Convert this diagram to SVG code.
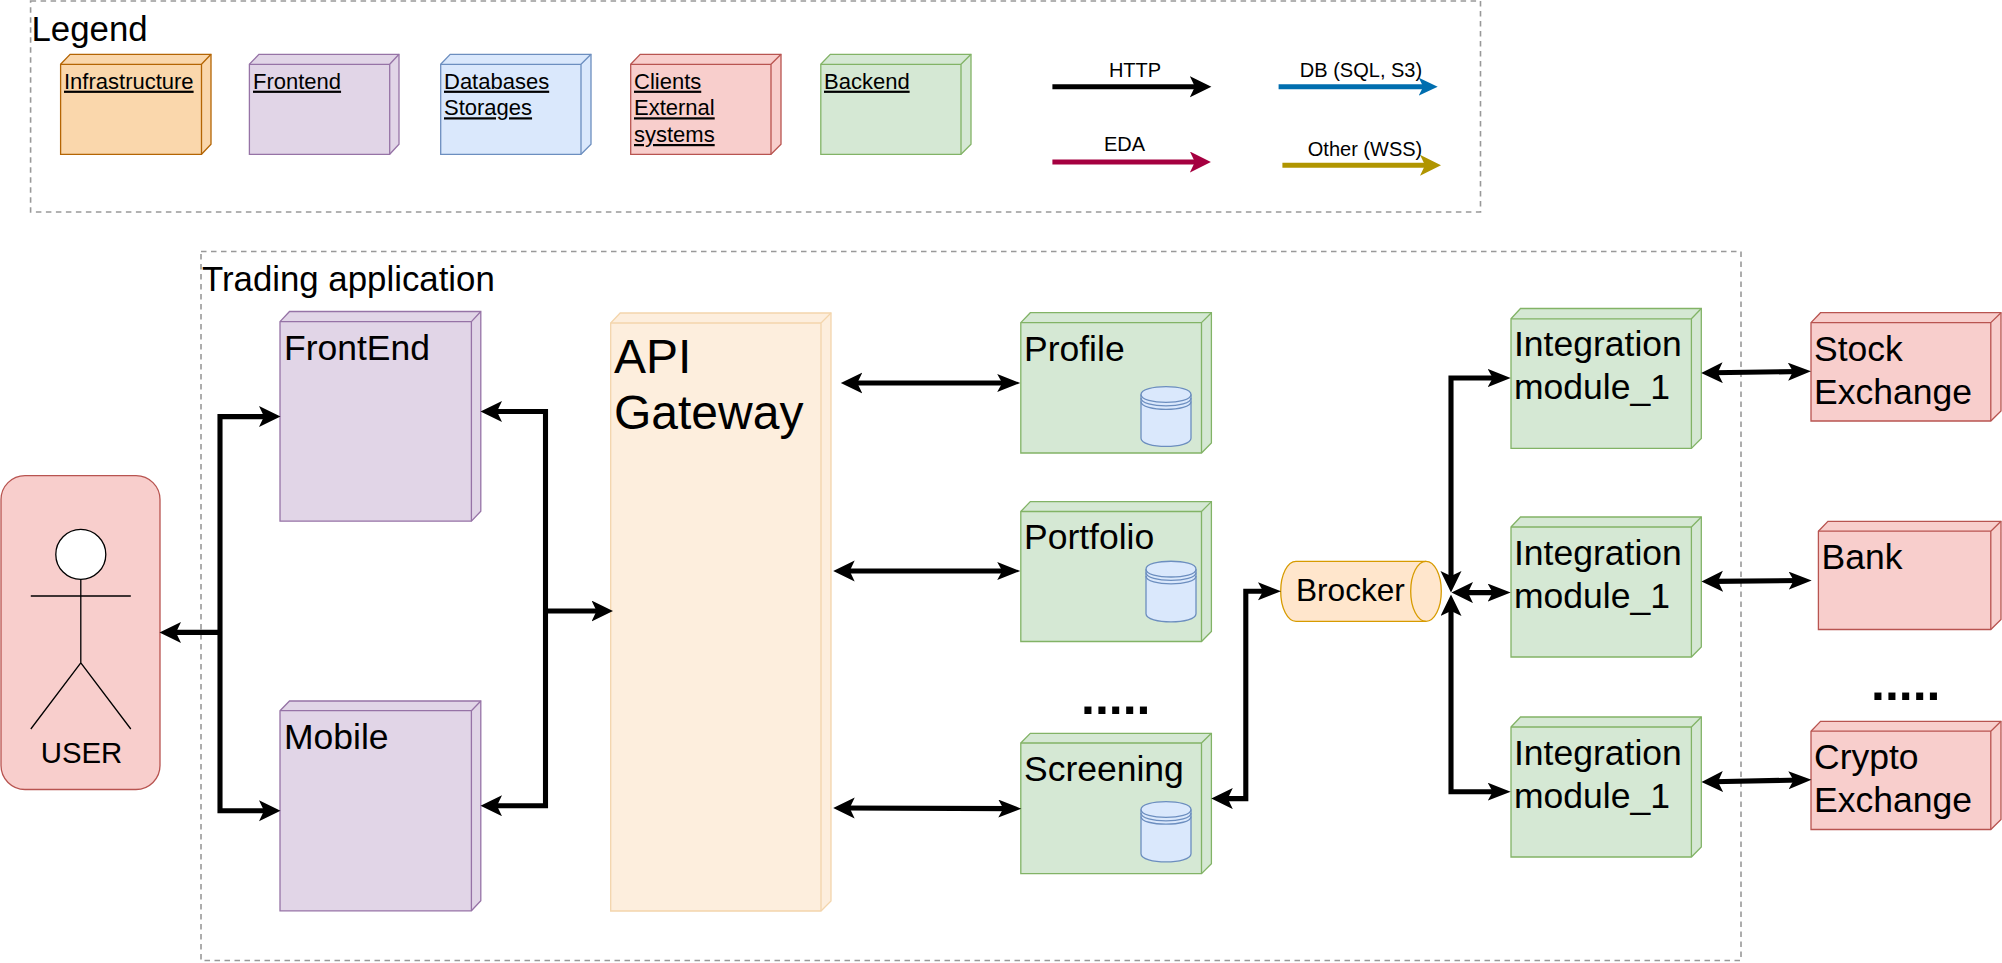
<svg xmlns="http://www.w3.org/2000/svg" width="2002" height="963" viewBox="0 0 2002 963">
<style>
text{font-family:"Liberation Sans",Arial,sans-serif;fill:#000}
.frame{fill:none;stroke:#999;stroke-width:1.6;stroke-dasharray:5.5 4.5}
.n{stroke-width:1.3;stroke-linejoin:miter}
.inf{fill:#fad7ac;stroke:#b46504}
.fe{fill:#e1d5e7;stroke:#9673a6}
.db{fill:#dae8fc;stroke:#6c8ebf}
.ext{fill:#f8cecc;stroke:#b85450}
.be{fill:#d5e8d4;stroke:#82b366}
.gw{fill:#fdeedd;stroke:#f3d5ac}
.brk{fill:#ffe6cc;stroke:#d79b00}
.lg{font-size:22px;text-decoration:underline}
.lb{font-size:35.5px}
.al{font-size:20px}
.dots{font-size:50px;font-weight:bold}
.c{fill:none;stroke:#000;stroke-width:5.1;marker-start:url(#s);marker-end:url(#e)}
.actor{fill:none;stroke:#000;stroke-width:1.3}
</style>
<defs>
<marker id="e" markerUnits="userSpaceOnUse" markerWidth="24" markerHeight="19" refX="12" refY="9" orient="auto-start-reverse"><path d="M0,0 L23,9 L0,18 L5,9Z" fill="#000"/></marker>
<marker id="s" markerUnits="userSpaceOnUse" markerWidth="23" markerHeight="22" refX="10" refY="10.5" orient="auto-start-reverse"><path d="M0,0 L21.5,10.5 L0,21 L5,10.5Z" fill="#000"/></marker>
<marker id="mb" markerUnits="userSpaceOnUse" markerWidth="20" markerHeight="18" refX="8" refY="9" orient="auto"><path d="M0,0 L19,9 L0,18 L4.5,9Z" fill="#006eaf"/></marker>
<marker id="mr" markerUnits="userSpaceOnUse" markerWidth="23" markerHeight="22" refX="10" refY="10.5" orient="auto"><path d="M0,0 L21,10.5 L0,21 L5,10.5Z" fill="#a50040"/></marker>
<marker id="my" markerUnits="userSpaceOnUse" markerWidth="23" markerHeight="22" refX="10" refY="10.5" orient="auto"><path d="M0,0 L21,10.5 L0,21 L5,10.5Z" fill="#b09500"/></marker>
</defs>
<rect fill="#fff" width="2002" height="963"/>

<g id="legend">
<rect class="frame" x="30.6" y="1" width="1449.9" height="211"/>
<text x="31.5" y="41" font-size="34.8">Legend</text>
</g>
<g id="legend-infrastructure" class="n inf"><path d="M60.6,64.3L70.1,54.3H211V144.3L201.5,154.3H60.6Z"/><path fill="none" d="M60.6,64.3H201.5V154.3M201.5,64.3L211,54.3"/><text class="lg" x="64" y="88.7" stroke="none">Infrastructure</text></g>
<g id="legend-frontend" class="n fe"><path d="M249.4,64.3L258.9,54.3H399V144.3L389.7,154.3H249.4Z"/><path fill="none" d="M249.4,64.3H389.7V154.3M389.7,64.3L399,54.3"/><text class="lg" x="253" y="88.7" stroke="none">Frontend</text></g>
<g id="legend-databases" class="n db"><path d="M440.7,64.3L450.2,54.3H591V144.3L581,154.3H440.7Z"/><path fill="none" d="M440.7,64.3H581V154.3M581,64.3L591,54.3"/><text class="lg" stroke="none"><tspan x="444" y="88.7">Databases</tspan><tspan x="444" y="115.3">Storages</tspan></text></g>
<g id="legend-clients" class="n ext"><path d="M630.7,64.3L640.2,54.3H781V144.3L771,154.3H630.7Z"/><path fill="none" d="M630.7,64.3H771V154.3M771,64.3L781,54.3"/><text class="lg" stroke="none"><tspan x="634" y="88.7">Clients</tspan><tspan x="634" y="115.3">External</tspan><tspan x="634" y="142">systems</tspan></text></g>
<g id="legend-backend" class="n be"><path d="M820.8,64.3L830.3,54.3H971V144.3L961,154.3H820.8Z"/><path fill="none" d="M820.8,64.3H961V154.3M961,64.3L971,54.3"/><text class="lg" x="824" y="88.7" stroke="none">Backend</text></g>

<g id="legend-arrows">
<path fill="none" stroke="#000" stroke-width="4.9" marker-end="url(#s)" d="M1052.4,86.7H1199.9"/>
<path fill="none" stroke="#006eaf" stroke-width="4.9" marker-end="url(#mb)" d="M1278.6,86.7H1426.7"/>
<path fill="none" stroke="#a50040" stroke-width="4.9" marker-end="url(#mr)" d="M1052.4,162H1199.9"/>
<path fill="none" stroke="#b09500" stroke-width="4.9" marker-end="url(#my)" d="M1282.4,165.3H1430"/>
<text class="al" x="1135" y="76.7" text-anchor="middle">HTTP</text>
<text class="al" x="1361" y="76.7" text-anchor="middle">DB (SQL, S3)</text>
<text class="al" x="1124.6" y="150.7" text-anchor="middle">EDA</text>
<text class="al" x="1365" y="155.7" text-anchor="middle">Other (WSS)</text>
</g>

<g id="trading-application">
<rect class="frame" x="201" y="251.5" width="1540" height="709"/>
<text x="202" y="290.7" font-size="34.8">Trading application</text>
</g>

<g id="user">
<rect class="ext n" x="1" y="475.6" width="159" height="313.9" rx="24" ry="24"/>
<ellipse class="actor" cx="80.8" cy="554.4" rx="25" ry="25" style="fill:#fff"/>
<path class="actor" d="M80.8,579.4V662.8M30.8,596H130.8M30.8,729L80.8,662.8L130.8,729"/>
<text x="81.5" y="763" font-size="29.4" text-anchor="middle">USER</text>
</g>

<g id="frontend"><g class="n fe"><path d="M280,321.6L289.5,311.5H480.8V511.2L471.4,521.2H280Z"/><path fill="none" d="M280,321.6H471.4V521.2M471.4,321.6L480.8,311.5"/></g>
<text class="lb" x="284" y="360">FrontEnd</text></g>
<g id="mobile"><g class="n fe"><path d="M280,710.7L289.5,701H480.8V900.8L471.4,910.8H280Z"/><path fill="none" d="M280,710.7H471.4V910.8M471.4,710.7L480.8,701"/></g>
<text class="lb" x="284" y="749">Mobile</text></g>

<g id="api-gateway"><g class="n gw"><path d="M610.7,323L620.2,313H831V901L821,911H610.7Z"/><path fill="none" d="M610.7,323H821V911M821,323L831,313"/></g>
<text font-size="48"><tspan x="614" y="372.5">API</tspan><tspan x="614" y="429">Gateway</tspan></text></g>

<g id="profile"><g class="n be"><path d="M1020.8,322.6L1030.3,312.7H1211.4V443L1201.5,453H1020.8Z"/><path fill="none" d="M1020.8,322.6H1201.5V453M1201.5,322.6L1211.4,312.7"/></g>
<text class="lb" x="1024" y="360.8">Profile</text>
<g class="n db"><path d="M1141,394.6C1141,384 1191,384 1191,394.6V438.2C1191,449 1141,449 1141,438.2Z"/><path fill="none" d="M1141,394.6C1141,405 1191,405 1191,394.6M1141,398C1141,408.5 1191,408.5 1191,398M1141,401.4C1141,412 1191,412 1191,401.4"/></g></g>

<g id="portfolio"><g class="n be"><path d="M1020.8,511.5L1030.3,501.6H1211.4V631.5L1201.5,641.5H1020.8Z"/><path fill="none" d="M1020.8,511.5H1201.5V641.5M1201.5,511.5L1211.4,501.6"/></g>
<text class="lb" x="1024" y="548.8">Portfolio</text>
<g class="n db"><path d="M1146,569.2C1146,558.6 1196,558.6 1196,569.2V613.8C1196,624.6 1146,624.6 1146,613.8Z"/><path fill="none" d="M1146,569.2C1146,579.6 1196,579.6 1196,569.2M1146,572.6C1146,583 1196,583 1196,572.6M1146,576C1146,586.4 1196,586.4 1196,576"/></g></g>

<g id="screening"><g class="n be"><path d="M1020.8,743L1030.3,733.3H1211.4V863.7L1201.5,873.7H1020.8Z"/><path fill="none" d="M1020.8,743H1201.5V873.7M1201.5,743L1211.4,733.3"/></g>
<text class="lb" x="1024" y="781.4">Screening</text>
<g class="n db"><path d="M1141,809.6C1141,799 1191,799 1191,809.6V853.7C1191,864.5 1141,864.5 1141,853.7Z"/><path fill="none" d="M1141,809.6C1141,820 1191,820 1191,809.6M1141,813C1141,823.4 1191,823.4 1191,813M1141,816.4C1141,826.8 1191,826.8 1191,816.4"/></g></g>
<text class="dots" x="1081" y="713.5">.....</text>

<g id="brocker"><path class="n brk" d="M1296,561.3H1426C1434.5,561.3 1441.3,574.7 1441.3,591.3C1441.3,607.9 1434.5,621.3 1426,621.3H1296C1287.5,621.3 1280.7,607.9 1280.7,591.3C1280.7,574.7 1287.5,561.3 1296,561.3Z"/><path class="n brk" d="M1426,561.3C1417.5,561.3 1410.7,574.7 1410.7,591.3C1410.7,607.9 1417.5,621.3 1426,621.3" style="fill:none"/>
<text x="1296" y="601" font-size="31.6">Brocker</text></g>

<g id="integration-1"><g class="n be"><path d="M1511,318.8L1520.5,308.5H1701.3V438.4L1691.4,448.4H1511Z"/><path fill="none" d="M1511,318.8H1691.4V448.4M1691.4,318.8L1701.3,308.5"/></g>
<text class="lb"><tspan x="1514" y="356">Integration</tspan><tspan x="1514" y="399">module_1</tspan></text></g>
<g id="integration-2"><g class="n be"><path d="M1511,527L1520.5,517H1701.3V647L1691.4,657H1511Z"/><path fill="none" d="M1511,527H1691.4V657M1691.4,527L1701.3,517"/></g>
<text class="lb"><tspan x="1514" y="565">Integration</tspan><tspan x="1514" y="608">module_1</tspan></text></g>
<g id="integration-3"><g class="n be"><path d="M1511,727L1520.5,717H1701.3V847L1691.4,857H1511Z"/><path fill="none" d="M1511,727H1691.4V857M1691.4,727L1701.3,717"/></g>
<text class="lb"><tspan x="1514" y="765">Integration</tspan><tspan x="1514" y="808">module_1</tspan></text></g>

<g id="stock-exchange"><g class="n ext"><path d="M1811,322.6L1820.5,312.7H2001V411L1990.8,421H1811Z"/><path fill="none" d="M1811,322.6H1990.8V421M1990.8,322.6L2001,312.7"/></g>
<text class="lb"><tspan x="1814" y="360.8">Stock</tspan><tspan x="1814" y="403.7">Exchange</tspan></text></g>
<g id="bank"><g class="n ext"><path d="M1818.4,531.2L1827.9,521.3H2001V619.5L1990.8,629.5H1818.4Z"/><path fill="none" d="M1818.4,531.2H1990.8V629.5M1990.8,531.2L2001,521.3"/></g>
<text class="lb" x="1821.5" y="569">Bank</text></g>
<text class="dots" x="1871" y="700">.....</text>
<g id="crypto-exchange"><g class="n ext"><path d="M1811,731.2L1820.5,721.3H2001V819.5L1990.8,829.5H1811Z"/><path fill="none" d="M1811,731.2H1990.8V829.5M1990.8,731.2L2001,721.3"/></g>
<text class="lb"><tspan x="1814" y="768.5">Crypto</tspan><tspan x="1814" y="811.5">Exchange</tspan></text></g>

<g id="connectors">
<path class="c" style="marker-end:url(#s)" d="M269,416.6H220V810.8H269"/>
<path class="c" style="marker-start:none;marker-end:url(#s)" d="M220,632.4H171"/>
<path class="c" style="marker-end:url(#s)" d="M492,411.5H545.5V805.7H492"/>
<path class="c" style="marker-start:none;marker-end:url(#s)" d="M545.5,611H601.5"/>
<path class="c" d="M852.3,383H1009.2"/>
<path class="c" d="M844.7,571H1009.2"/>
<path class="c" d="M844.7,808L1010.3,808.6"/>
<path class="c" d="M1222.8,798.6H1245.8V591.3H1270"/>
<path class="c" d="M1451,581V378H1499.7"/>
<path class="c" d="M1451,606V791.7H1499.7"/>
<path class="c" d="M1463,592.6H1499.7"/>
<path class="c" d="M1712.7,372.8L1800,371.5"/>
<path class="c" d="M1713,581.4L1800.7,580.5"/>
<path class="c" d="M1713,781.8L1800.5,780"/>
</g>
</svg>
